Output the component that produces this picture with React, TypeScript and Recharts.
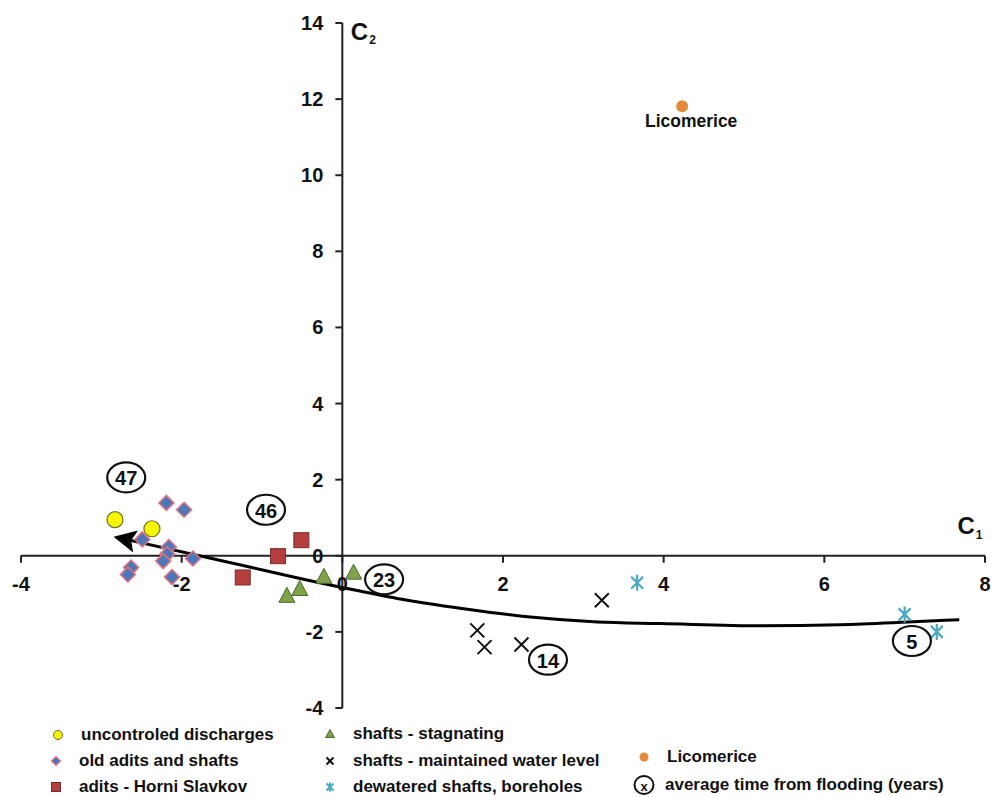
import React from "react";
import {
  ComposedChart,
  XAxis,
  YAxis,
  Scatter,
  Line,
  ReferenceLine,
  ReferenceDot,
} from "recharts";

const FONT = '"Liberation Sans", Arial, Helvetica, sans-serif';

const xTicks = [-4, -2, 0, 2, 4, 6, 8];
const yTicks = [-4, -2, 0, 2, 4, 6, 8, 10, 12, 14];

const uncontrolled = [
  { x: -2.83, y: 0.95 },
  { x: -2.37, y: 0.71 },
];

const oldAdits = [
  { x: -2.19, y: 1.39 },
  { x: -1.97, y: 1.21 },
  { x: -2.49, y: 0.43 },
  { x: -2.16, y: 0.23 },
  { x: -2.18, y: 0.04 },
  { x: -2.23, y: -0.14 },
  { x: -1.86, y: -0.07 },
  { x: -2.63, y: -0.31 },
  { x: -2.67, y: -0.49 },
  { x: -2.12, y: -0.56 },
];

const aditsHorni = [
  { x: -0.51, y: 0.41 },
  { x: -0.8, y: -0.01 },
  { x: -1.24, y: -0.57 },
];

const stagnating = [
  { x: 0.14, y: -0.43 },
  { x: -0.23, y: -0.54 },
  { x: -0.53, y: -0.86 },
  { x: -0.69, y: -1.04 },
];

const maintained = [
  { x: 3.23, y: -1.17 },
  { x: 1.68, y: -1.96 },
  { x: 1.77, y: -2.4 },
  { x: 2.23, y: -2.33 },
];

const dewatered = [
  { x: 3.67, y: -0.71 },
  { x: 7.0, y: -1.54 },
  { x: 7.4, y: -2.0 },
];

const licomerice = [{ x: 4.23, y: 11.81, name: "Licomerice" }];

// trend of flooding age, arrow at the old (left) end
const trend = [
  { x: -2.82, y: 0.49 },
  { x: -1.5, y: -0.13 },
  { x: 0.01, y: -0.84 },
  { x: 0.68, y: -1.12 },
  { x: 1.51, y: -1.39 },
  { x: 2.34, y: -1.61 },
  { x: 3.18, y: -1.74 },
  { x: 3.96, y: -1.78 },
  { x: 5.21, y: -1.84 },
  { x: 6.2, y: -1.81 },
  { x: 7.04, y: -1.74 },
  { x: 7.68, y: -1.68 },
];

const floodYears = [
  { x: -2.69, y: 2.06, years: 47 },
  { x: -0.95, y: 1.21, years: 46 },
  { x: 0.52, y: -0.62, years: 23 },
  { x: 2.56, y: -2.73, years: 14 },
  { x: 7.09, y: -2.24, years: 5 },
];

const COLORS = {
  yellow: "#f6f600",
  yellowEdge: "#6f6f2e",
  diamond: "#4a78b8",
  diamondEdge: "#e6707c",
  square: "#b53f3d",
  squareEdge: "#7a2b2b",
  triangle: "#7fa24a",
  triangleEdge: "#4d6a2b",
  cross: "#111111",
  star: "#4aa8c2",
  orange: "#e3893c",
  axis: "#222222",
};

const CircleShape = ({ cx, cy }: any) => (
  <circle cx={cx} cy={cy} r={8} fill={COLORS.yellow} stroke={COLORS.yellowEdge} strokeWidth={1.2} />
);

const DiamondShape = ({ cx, cy }: any) => (
  <polygon
    points={`${cx},${cy - 7.5} ${cx + 7.5},${cy} ${cx},${cy + 7.5} ${cx - 7.5},${cy}`}
    fill={COLORS.diamond}
    stroke={COLORS.diamondEdge}
    strokeWidth={1.5}
  />
);

const SquareShape = ({ cx, cy }: any) => (
  <rect x={cx - 7.5} y={cy - 7.5} width={15} height={15} fill={COLORS.square} stroke={COLORS.squareEdge} strokeWidth={1} />
);

const TriangleShape = ({ cx, cy }: any) => (
  <polygon
    points={`${cx},${cy - 8} ${cx + 8},${cy + 7} ${cx - 8},${cy + 7}`}
    fill={COLORS.triangle}
    stroke={COLORS.triangleEdge}
    strokeWidth={1}
  />
);

const CrossShape = ({ cx, cy }: any) => (
  <path
    d={`M${cx - 7},${cy - 7}L${cx + 7},${cy + 7}M${cx + 7},${cy - 7}L${cx - 7},${cy + 7}`}
    stroke={COLORS.cross}
    strokeWidth={2}
    fill="none"
  />
);

const StarShape = ({ cx, cy }: any) => (
  <path
    d={`M${cx - 6},${cy - 6}L${cx + 6},${cy + 6}M${cx + 6},${cy - 6}L${cx - 6},${cy + 6}M${cx},${cy - 8}L${cx},${cy + 8}`}
    stroke={COLORS.star}
    strokeWidth={2.2}
    fill="none"
  />
);

const LicomericeShape = ({ cx, cy, payload }: any) => (
  <g>
    <circle cx={cx} cy={cy} r={6} fill={COLORS.orange} />
    <text
      x={cx + 9}
      y={cy + 15}
      textAnchor="middle"
      dominantBaseline="central"
      fontFamily={FONT}
      fontWeight="bold"
      fontSize={17.5}
      fill="#111"
    >
      {payload?.name ?? "Licomerice"}
    </text>
  </g>
);

const XTick = ({ cx, cy, value }: any) => (
  <g>
    <line x1={cx} y1={cy} x2={cx} y2={cy + 7} stroke={COLORS.axis} strokeWidth={2} />
    <text x={cx} y={cy + 28} textAnchor="middle" dominantBaseline="central" fontFamily={FONT} fontWeight="bold" fontSize={20} fill="#111">
      {value}
    </text>
  </g>
);

const YTick = ({ cx, cy, value }: any) => (
  <g>
    <line x1={cx - 7} y1={cy} x2={cx} y2={cy} stroke={COLORS.axis} strokeWidth={2} />
    <text x={cx - 19} y={cy} textAnchor="end" dominantBaseline="central" fontFamily={FONT} fontWeight="bold" fontSize={20} fill="#111">
      {value}
    </text>
  </g>
);

const AxisTitle = ({ cx, cy, dx, dy, sub }: any) => (
  <text x={cx + dx} y={cy + dy} textAnchor="middle" dominantBaseline="central" fontFamily={FONT} fontWeight="bold" fontSize={24} fill="#111">
    C
    <tspan fontSize={12} dx={1} dy={9}>
      {sub}
    </tspan>
  </text>
);

const YearsBadge = ({ cx, cy, value }: any) => (
  <g>
    <ellipse cx={cx} cy={cy} rx={19} ry={15} fill="#fff" stroke="#111" strokeWidth={2.2} />
    <text x={cx} y={cy + 1} textAnchor="middle" dominantBaseline="central" fontFamily={FONT} fontWeight="bold" fontSize={20} fill="#111">
      {value}
    </text>
  </g>
);

const legendItems = [
  { label: "uncontroled discharges", icon: "circle", left: 58, top: 735 },
  { label: "old adits and shafts", icon: "diamond", left: 56, top: 761 },
  { label: "adits - Horni Slavkov", icon: "square", left: 56, top: 787 },
  { label: "shafts - stagnating", icon: "triangle", left: 330, top: 734 },
  { label: "shafts - maintained water level", icon: "cross", left: 330, top: 761 },
  { label: "dewatered shafts, boreholes", icon: "star", left: 330, top: 787 },
  { label: "Licomerice", icon: "dot", left: 644, top: 757 },
  { label: "average time from flooding (years)", icon: "badge", left: 644, top: 785 },
];

const LegendIcon = ({ kind }: { kind: string }) => {
  const c = 11;
  let el: React.ReactNode = null;
  if (kind === "circle") el = <circle cx={c} cy={c} r={4.5} fill={COLORS.yellow} stroke={COLORS.yellowEdge} strokeWidth={1} />;
  if (kind === "diamond")
    el = <polygon points={`${c},${c - 4.5} ${c + 4.5},${c} ${c},${c + 4.5} ${c - 4.5},${c}`} fill={COLORS.diamond} stroke={COLORS.diamondEdge} strokeWidth={1.2} />;
  if (kind === "square") el = <rect x={c - 4.5} y={c - 4.5} width={9} height={9} fill={COLORS.square} stroke={COLORS.squareEdge} strokeWidth={1} />;
  if (kind === "triangle")
    el = <polygon points={`${c},${c - 4.5} ${c + 4.5},${c + 3.5} ${c - 4.5},${c + 3.5}`} fill={COLORS.triangle} stroke={COLORS.triangleEdge} strokeWidth={1} />;
  if (kind === "cross")
    el = <path d={`M${c - 3.5},${c - 3.5}L${c + 3.5},${c + 3.5}M${c + 3.5},${c - 3.5}L${c - 3.5},${c + 3.5}`} stroke={COLORS.cross} strokeWidth={2} />;
  if (kind === "star")
    el = <path d={`M${c - 3.5},${c - 3.5}L${c + 3.5},${c + 3.5}M${c + 3.5},${c - 3.5}L${c - 3.5},${c + 3.5}M${c},${c - 4.5}L${c},${c + 4.5}`} stroke={COLORS.star} strokeWidth={2} />;
  if (kind === "dot") el = <circle cx={c} cy={c} r={4.5} fill={COLORS.orange} />;
  if (kind === "badge")
    el = (
      <g>
        <ellipse cx={c} cy={c} rx={9.5} ry={9} fill="#fff" stroke="#111" strokeWidth={2} />
        <text x={c} y={c + 1} textAnchor="middle" dominantBaseline="central" fontFamily={FONT} fontWeight="bold" fontSize={13} fill="#111">
          x
        </text>
      </g>
    );
  return (
    <svg width={22} height={22} style={{ position: "absolute", left: -11, top: 0 }}>
      {el}
    </svg>
  );
};

export default function App() {
  return (
    <div style={{ position: "relative", width: 1004, height: 797, background: "#fff", fontFamily: FONT }}>
      <style>{"body{margin:0}"}</style>
      <svg width={0} height={0} style={{ position: "absolute" }}>
        <defs>
          <marker
            id="trendArrow"
            viewBox="0 0 10 10"
            refX={9}
            refY={5}
            markerWidth={7.5}
            markerHeight={7.5}
            orient="auto-start-reverse"
            markerUnits="strokeWidth"
          >
            <path d="M0,0 L10,5 L0,10 L2,5 z" fill="#000" />
          </marker>
        </defs>
      </svg>
      <ComposedChart width={1004} height={797} margin={{ top: 23, right: 19, bottom: 89, left: 21 }}>
        <XAxis type="number" dataKey="x" domain={[-4, 8]} ticks={xTicks} allowDataOverflow hide />
        <YAxis type="number" dataKey="y" domain={[-4, 14]} ticks={yTicks} allowDataOverflow hide />

        <ReferenceLine y={0} stroke={COLORS.axis} strokeWidth={2} />
        <ReferenceLine x={0} stroke={COLORS.axis} strokeWidth={2} />
        {xTicks.map((t) => (
          <ReferenceDot key={`xt${t}`} x={t} y={0} shape={(p: any) => <XTick {...p} value={t} />} />
        ))}
        {yTicks.map((t) => (
          <ReferenceDot key={`yt${t}`} x={0} y={t} shape={(p: any) => <YTick {...p} value={t} />} />
        ))}
        <ReferenceDot x={0} y={14} shape={(p: any) => <AxisTitle {...p} dx={21} dy={8} sub="2" />} />
        <ReferenceDot x={8} y={0} shape={(p: any) => <AxisTitle {...p} dx={-15} dy={-30} sub="1" />} />

        <Line
          data={trend}
          dataKey="y"
          type="monotone"
          stroke="#000"
          strokeWidth={3}
          dot={false}
          activeDot={false}
          markerStart="url(#trendArrow)"
          isAnimationActive={false}
        />

        <Scatter name="uncontroled discharges" data={uncontrolled} shape={CircleShape} isAnimationActive={false} />
        <Scatter name="old adits and shafts" data={oldAdits} shape={DiamondShape} isAnimationActive={false} />
        <Scatter name="adits - Horni Slavkov" data={aditsHorni} shape={SquareShape} isAnimationActive={false} />
        <Scatter name="shafts - stagnating" data={stagnating} shape={TriangleShape} isAnimationActive={false} />
        <Scatter name="shafts - maintained water level" data={maintained} shape={CrossShape} isAnimationActive={false} />
        <Scatter name="dewatered shafts, boreholes" data={dewatered} shape={StarShape} isAnimationActive={false} />
        <Scatter name="Licomerice" data={licomerice} shape={LicomericeShape} isAnimationActive={false} />

        {floodYears.map((f) => (
          <ReferenceDot key={`fy${f.years}`} x={f.x} y={f.y} shape={(p: any) => <YearsBadge {...p} value={f.years} />} />
        ))}
      </ComposedChart>

      {legendItems.map((it) => (
        <div
          key={it.label}
          style={{
            position: "absolute",
            left: it.left,
            top: it.top - 11,
            height: 22,
            lineHeight: "22px",
            whiteSpace: "nowrap",
            fontSize: 17,
            fontWeight: "bold",
            color: "#111",
          }}
        >
          <LegendIcon kind={it.icon} />
          <span style={{ position: "absolute", left: it.icon === "badge" ? 21 : 23, top: 0 }}>{it.label}</span>
        </div>
      ))}
    </div>
  );
}
